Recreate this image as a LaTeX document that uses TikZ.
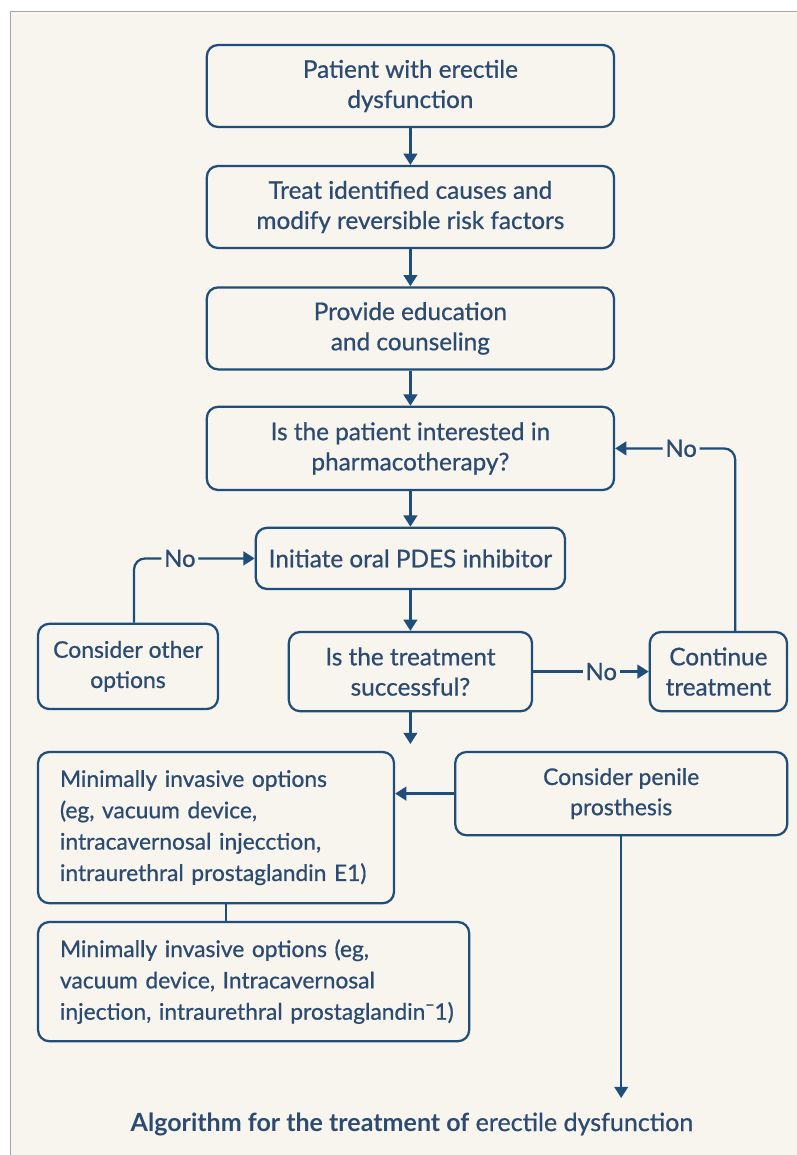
\documentclass[tikz,border=0pt]{standalone}
\usepackage{fontspec}
\setmainfont{Lato}
\newfontfamily\edfont{Lato}[FakeBold=0.7]
\usepackage{xcolor}
\usepackage{tikz}
\usetikzlibrary{positioning,arrows.meta}
\definecolor{edblue}{HTML}{1F4E7A}
\definecolor{edtext}{HTML}{2B4B70}
\definecolor{edbg}{HTML}{F8F4EE}

\begin{document}
\begin{tikzpicture}[
    blk/.style={draw=edblue, line width=1.6pt, rounded corners=8pt, align=center,
                text=edtext, font=\edfont\fontsize{17.3}{21.5}\selectfont, inner sep=0pt},
    wide/.style={blk, minimum width=10.18cm, minimum height=2.05cm},
    opt/.style={blk, align=left, inner xsep=0.55cm, font=\edfont\fontsize{16.2}{22.3}\selectfont},
    lbl/.style={fill=edbg, text=edtext, font=\edfont\fontsize{17}{18}\selectfont, inner sep=2pt},
    arr/.style={-{Triangle[length=2.8mm, width=3.4mm]}, draw=edblue, line width=1.6pt},
    lnk/.style={draw=edblue, line width=1.6pt}
  ]
  % page and frame
  \useasboundingbox (0,0) rectangle (19.925,-28.875);
  \fill[white] (0,0) rectangle (19.925,-28.875);
  \fill[edbg] (0.25,-0.275) rectangle (19.925,-28.875);
  \draw[gray!70, line width=0.6pt] (0.25,-28.875) -- (0.25,-0.275) -- (19.925,-0.275);

  % main column
  \node[wide] (pat)  at (10.26,-2.15)  {Patient with erectile\\dysfunction};
  \node[wide] (trt)  at (10.26,-5.175) {Treat identified causes and\\modify reversible risk factors};
  \node[wide] (edu)  at (10.26,-8.21)  {Provide education\\and counseling};
  \node[wide, minimum height=2.08cm] (pharm) at (10.26,-11.21)
    {Is the patient interested in\\pharmacotherapy?};
  \node[blk, minimum width=7.73cm, minimum height=1.53cm] (init) at (10.26,-13.96)
    {Initiate oral PDES inhibitor};
  \node[blk, minimum width=6.08cm, minimum height=1.98cm] (succ) at (10.26,-16.79)
    {Is the treatment\\successful?};

  % side boxes
  \node[blk, minimum width=4.5cm, minimum height=2.13cm,
        font=\edfont\fontsize{16.3}{21.5}\selectfont] (other) at (3.2,-16.66)
    {Consider other\\options};
  \node[blk, minimum width=3.43cm, minimum height=1.98cm] (cont) at (17.96,-16.79)
    {Continue\\treatment};

  % lower part
  \node[opt, text width=7.8cm, minimum height=3.78cm] (min1) at (5.4,-20.69)
    {Minimally invasive options\\(eg, vacuum device,\\intracavernosal injecction,\\intraurethral prostaglandin E1)};
  \node[blk, minimum width=8.3cm, minimum height=2.08cm,
        font=\edfont\fontsize{16.3}{21.5}\selectfont] (pros) at (15.53,-19.84)
    {Consider penile\\prosthesis};
  \node[opt, text width=9.68cm, minimum height=2.98cm] (min2) at (6.34,-24.54)
    {Minimally invasive options (eg,\\vacuum device, Intracavernosal\\\mbox{injection, intraurethral prostaglandin¯1)}};

  \coordinate (succend) at (10.26,-18.6);
  \coordinate (prosend) at (15.53,-27.45);

  \node[text=edtext, font=\fontsize{17.8}{20}\selectfont] (title) at (10.3,-28.1)
    {\textbf{Algorithm for the treatment of} {\edfont erectile dysfunction}};

  % connectors
  \draw[arr] (pat) -- (trt);
  \draw[arr] (trt) -- (edu);
  \draw[arr] (edu) -- (pharm);
  \draw[arr] (pharm) -- (init);
  \draw[arr] (init) -- (succ);
  \draw[arr] (succ) -- (succend);
  \draw[arr] (succ) -- node[lbl, pos=0.59] {No} (cont);
  \draw[arr, rounded corners=8pt] ([xshift=1.5mm]other.north) |- node[lbl, pos=0.69] {No} (init.west);
  \draw[arr, rounded corners=8pt] ([xshift=4.2mm]cont.north) |- node[lbl, pos=0.725] {No} (pharm.east);
  \draw[arr] (pros.west) -- (pros.west -| min1.east);
  \draw[lnk] ([xshift=2.5mm]min1.south) -- ([xshift=2.5mm]min1.south |- min2.north);
  \draw[arr] (pros) -- (prosend);
\end{tikzpicture}
\end{document}
